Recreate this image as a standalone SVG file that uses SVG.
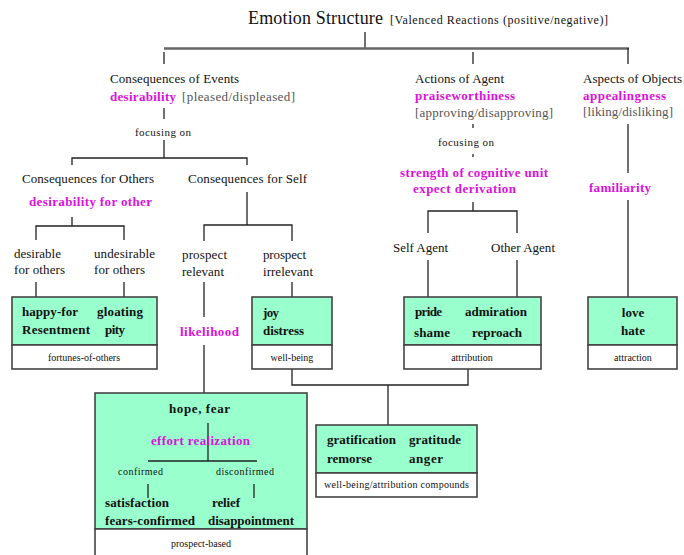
<svg xmlns="http://www.w3.org/2000/svg" width="684" height="555" viewBox="0 0 684 555">
<style>
text{font-family:"Liberation Serif","Times New Roman",serif;fill:#111}
.t{font-size:13px}
.s{font-size:11px}
.xs{font-size:10px}
.g{font-size:13px;fill:#555}
.m{font-size:13px;font-weight:bold;fill:#dd11dd}
.b{font-size:13px;font-weight:bold;fill:#111}
.box{fill:#99ffcc;stroke:#444;stroke-width:1.6}
.lab{fill:#fff;stroke:#444;stroke-width:1.6}
.c line,.c path{stroke:#222;stroke-width:1.3;fill:none}
</style>
<rect width="684" height="555" fill="#fff"/>

<g id="title">
<text x="248" y="24" font-size="18" textLength="135">Emotion Structure</text>
<text x="390" y="24" font-size="12" textLength="218">[Valenced Reactions (positive/negative)]</text>
</g>

<g id="connectors" class="c">
<line x1="365" y1="32" x2="365" y2="48"/>
<line x1="164" y1="48.5" x2="629" y2="48.5" style="stroke:#666;stroke-width:2.5"/>
<line x1="164" y1="52" x2="164" y2="64"/>
<line x1="473" y1="52" x2="473" y2="64"/>
<line x1="628" y1="48" x2="628" y2="64"/>
<line x1="164" y1="108" x2="164" y2="119"/>
<path d="M164 140V158M72 165V158H247V165"/>
<path d="M72 217V226M36 240V226H124V240"/>
<line x1="36" y1="282" x2="36" y2="297"/>
<line x1="124" y1="282" x2="124" y2="297"/>
<path d="M247 192V225M204 241V225H292V241"/>
<line x1="204" y1="282" x2="204" y2="317"/>
<line x1="204" y1="345" x2="204" y2="393"/>
<line x1="292" y1="282" x2="292" y2="297"/>
<line x1="473" y1="124" x2="473" y2="128"/>
<line x1="473" y1="154" x2="473" y2="157"/>
<path d="M473 202V211M428 233V211H517V233"/>
<line x1="428" y1="260" x2="428" y2="297"/>
<line x1="517" y1="260" x2="517" y2="297"/>
<line x1="628" y1="124" x2="628" y2="173"/>
<line x1="628" y1="200" x2="628" y2="297"/>
<path d="M292 369V385H468V369M388 385V425"/>
</g>

<g id="events">
<text class="t" x="110" y="83" textLength="129">Consequences of Events</text>
<text class="m" x="110" y="101" textLength="66">desirability</text>
<text class="g" x="182" y="101" textLength="113">[pleased/displeased]</text>
<text class="s" x="135" y="136" textLength="56">focusing on</text>
</g>

<g id="agent">
<text class="t" x="415" y="83" textLength="89">Actions of Agent</text>
<text class="m" x="415" y="100" textLength="100">praiseworthiness</text>
<text class="g" x="415" y="117" textLength="138">[approving/disapproving]</text>
<text class="s" x="438" y="146" textLength="56">focusing on</text>
<text class="m" x="400" y="177" textLength="148">strength of cognitive unit</text>
<text class="m" x="413" y="193" textLength="103">expect derivation</text>
</g>

<g id="objects">
<text class="t" x="583" y="83" textLength="99">Aspects of Objects</text>
<text class="m" x="583" y="100" textLength="83">appealingness</text>
<text class="g" x="583" y="116" textLength="90">[liking/disliking]</text>
<text class="m" x="589" y="192" textLength="62">familiarity</text>
</g>

<g id="others">
<text class="t" x="22" y="183" textLength="132">Consequences for Others</text>
<text class="m" x="29" y="206" textLength="123">desirability for other</text>
<text class="t" x="14" y="258" textLength="47">desirable</text>
<text class="t" x="14" y="274" textLength="51">for others</text>
<text class="t" x="94" y="258" textLength="61">undesirable</text>
<text class="t" x="94" y="274" textLength="51">for others</text>
</g>

<g id="self">
<text class="t" x="188" y="183" textLength="119">Consequences for Self</text>
<text class="t" x="182" y="259" textLength="45">prospect</text>
<text class="t" x="182" y="276" textLength="42">relevant</text>
<text class="t" x="263" y="259" textLength="43">prospect</text>
<text class="t" x="263" y="276" textLength="50">irrelevant</text>
<text class="m" x="180" y="336" textLength="59">likelihood</text>
</g>

<g id="agents">
<text class="t" x="393" y="252" textLength="55">Self Agent</text>
<text class="t" x="491" y="252" textLength="64">Other Agent</text>
</g>

<g id="fortunes-of-others">
<rect class="box" x="12" y="297" width="145" height="48"/>
<rect class="lab" x="12" y="345" width="145" height="24"/>
<text class="b" x="22" y="316" textLength="56">happy-for</text>
<text class="b" x="97" y="316" textLength="46">gloating</text>
<text class="b" x="22" y="334" textLength="68">Resentment</text>
<text class="b" x="105" y="334" textLength="20">pity</text>
<text class="xs" x="84" y="361" text-anchor="middle">fortunes-of-others</text>
</g>

<g id="well-being">
<rect class="box" x="252" y="297" width="80" height="48"/>
<rect class="lab" x="252" y="345" width="80" height="24"/>
<text class="b" x="263" y="317" textLength="16">joy</text>
<text class="b" x="263" y="335" textLength="41">distress</text>
<text class="xs" x="292" y="361" text-anchor="middle">well-being</text>
</g>

<g id="attribution">
<rect class="box" x="404" y="297" width="137" height="48"/>
<rect class="lab" x="404" y="345" width="137" height="24"/>
<text class="b" x="415" y="316" textLength="27">pride</text>
<text class="b" x="465" y="316" textLength="62">admiration</text>
<text class="b" x="414" y="337" textLength="36">shame</text>
<text class="b" x="472" y="337" textLength="50">reproach</text>
<text class="xs" x="472" y="361" text-anchor="middle">attribution</text>
</g>

<g id="attraction">
<rect class="box" x="588" y="297" width="89" height="48"/>
<rect class="lab" x="588" y="345" width="89" height="24"/>
<text class="b" x="633" y="317" text-anchor="middle">love</text>
<text class="b" x="633" y="335" text-anchor="middle">hate</text>
<text class="xs" x="633" y="361" text-anchor="middle">attraction</text>
</g>

<g id="compounds">
<rect class="box" x="316" y="425" width="161" height="48"/>
<rect class="lab" x="316" y="473" width="161" height="24"/>
<text class="b" x="327" y="444" textLength="69">gratification</text>
<text class="b" x="409" y="444" textLength="52">gratitude</text>
<text class="b" x="327" y="463" textLength="45">remorse</text>
<text class="b" x="409" y="463" textLength="34">anger</text>
<text class="xs" x="324" y="488" textLength="145">well-being/attribution compounds</text>
</g>

<g id="prospect-based">
<rect class="box" x="95" y="393" width="212" height="136"/>
<rect class="lab" x="95" y="529" width="212" height="40"/>
<g class="c">
<path d="M208 423V461M148 461H257"/>
<line x1="148" y1="484" x2="148" y2="498"/>
<line x1="254" y1="484" x2="254" y2="498"/>
</g>
<text class="b" x="169" y="413" textLength="61">hope, fear</text>
<text class="m" x="151" y="445" textLength="99">effort realization</text>
<text class="xs" x="118" y="475" textLength="45">confirmed</text>
<text class="xs" x="216" y="475" textLength="58">disconfirmed</text>
<text class="b" x="105" y="507" textLength="64">satisfaction</text>
<text class="b" x="212" y="507" textLength="28">relief</text>
<text class="b" x="105" y="525" textLength="90">fears-confirmed</text>
<text class="b" x="208" y="525" textLength="86">disappointment</text>
<text class="xs" x="201" y="547" text-anchor="middle">prospect-based</text>
</g>
</svg>
